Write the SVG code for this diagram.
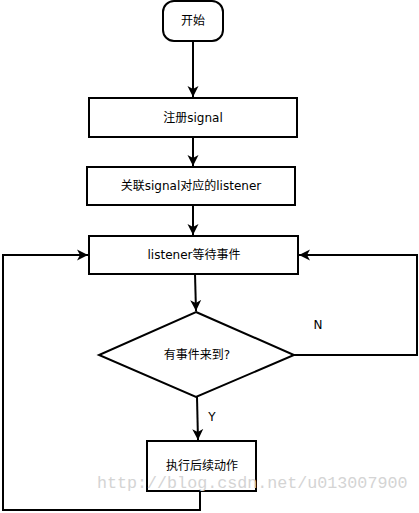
<svg xmlns="http://www.w3.org/2000/svg" width="419" height="513" viewBox="0 0 419 513">
<style>
.n{fill:#fff;stroke:#000;stroke-width:2}
.t{font-family:"DejaVu Sans","Noto Sans CJK SC",sans-serif;font-size:12px;fill:#000;text-anchor:middle;dominant-baseline:central}
.c{fill:none;stroke:#000;stroke-width:2}
.wm{font-family:"Liberation Mono",monospace;font-size:16.7px;fill:#d4d4d4}
</style>
<defs>
<marker id="ah" markerWidth="12" markerHeight="12" viewBox="0 0 12 12" refX="11" refY="6" orient="auto" markerUnits="userSpaceOnUse">
<path d="M0,0.5 L11,6 L0,11.5 L3,6 Z" fill="#000"/>
</marker>
</defs>
<rect width="419" height="513" fill="#fff"/>
<g id="connectors">
<path class="c" d="M193,41 V97" marker-end="url(#ah)"/>
<path class="c" d="M193,137 V166" marker-end="url(#ah)"/>
<path class="c" d="M193,205 V235" marker-end="url(#ah)"/>
<path class="c" d="M195,274 L196,311" marker-end="url(#ah)"/>
<path class="c" d="M294,355 H417 V255 H299" marker-end="url(#ah)"/>
<path class="c" d="M197,397 L198,440" marker-end="url(#ah)"/>
<path class="c" d="M200,491 V510 H3 V255 H88" marker-end="url(#ah)"/>
<text class="t" x="318" y="325">N</text>
<text class="t" x="212" y="417">Y</text>
</g>
<g id="start"><rect class="n" x="163" y="1" width="60" height="40" rx="11"/><text class="t" x="193" y="21">开始</text></g>
<g id="register"><rect class="n" x="89" y="98" width="208" height="39"/><text class="t" x="193" y="118">注册signal</text></g>
<g id="associate"><rect class="n" x="87" y="167" width="208" height="38"/><text class="t" x="191" y="186">关联signal对应的listener</text></g>
<g id="wait"><rect class="n" x="89" y="236" width="209" height="38"/><text class="t" x="194" y="255">listener等待事件</text></g>
<g id="decision"><path class="n" d="M196,312 L294,355 L196,397 L99,355 Z"/><text class="t" x="197" y="355">有事件来到?</text></g>
<g id="action"><rect class="n" x="147" y="441" width="109" height="50"/><text class="t" x="202" y="466">执行后续动作</text></g>
<text class="wm" x="97" y="488">http://blog.csdn.net/u013007900</text>
</svg>
